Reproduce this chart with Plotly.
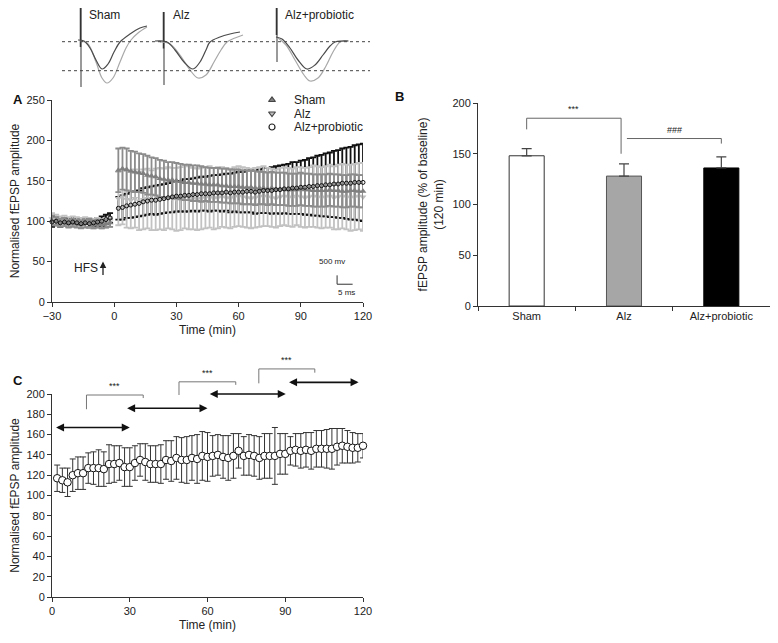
import plotly.graph_objects as go

# -------------------------------------------------
# DATA
# -------------------------------------------------
# panel A: normalised fEPSP amplitude, baseline (-30..-2 min) and post-HFS (2..120 min)
base_time = list(range(-30, 0, 2))
post_time = list(range(2, 121, 2))

sham_base = [101, 100, 98, 99, 97, 98, 97, 96, 97, 98, 96, 97, 96, 97, 98]
sham_base_err = [6, 5, 5, 5, 5, 5, 5, 5, 5, 5, 5, 5, 5, 5, 5]
alz_base = [103, 102, 100, 101, 99, 100, 99, 98, 99, 98, 97, 98, 97, 98, 99]
alz_base_err = [7, 6, 6, 6, 6, 6, 6, 6, 6, 6, 6, 6, 6, 6, 6]
apr_base = [99, 100, 98, 99, 98, 99, 98, 97, 98, 97, 98, 99, 100, 102, 104]
apr_base_err = [6, 5, 5, 5, 5, 5, 5, 5, 5, 5, 5, 5, 6, 6, 6]

sham_post = [163, 165, 164, 162, 161, 160, 159, 157, 156, 155,
             153, 152, 151, 151, 150, 149, 148, 148, 147, 147,
             146, 146, 145, 145, 145, 144, 144, 143, 143, 143,
             142, 142, 142, 141, 141, 141, 140, 141, 140, 140,
             140, 139, 139, 139, 140, 139, 139, 138, 138, 138,
             138, 139, 138, 138, 137, 137, 138, 138, 137, 137]
sham_post_err = [27, 26, 26, 25, 25, 24, 24, 24, 23, 23,
                 23, 23, 22, 22, 22, 22, 22, 22, 22, 22,
                 22, 21, 21, 21, 21, 21, 21, 21, 21, 21,
                 21, 21, 21, 21, 20, 20, 20, 20, 20, 20,
                 20, 20, 20, 20, 20, 20, 20, 20, 20, 20,
                 20, 20, 20, 20, 20, 20, 20, 20, 20, 20]

alz_post = [128, 130, 127, 126, 128, 125, 127, 128, 126, 127,
            128, 127, 129, 128, 127, 128, 130, 129, 128, 127,
            128, 129, 130, 128, 129, 130, 129, 128, 130, 131,
            130, 129, 128, 129, 130, 131, 130, 129, 128, 130,
            131, 130, 129, 131, 130, 129, 130, 131, 130, 129,
            130, 131, 129, 130, 131, 130, 129, 130, 131, 130]
alz_post_err = [33, 34, 35, 35, 36, 36, 37, 37, 37, 38,
                38, 38, 38, 38, 39, 39, 39, 39, 38, 38,
                38, 38, 38, 38, 38, 37, 37, 37, 37, 37,
                37, 37, 37, 37, 37, 37, 36, 36, 36, 36,
                36, 36, 36, 36, 37, 37, 37, 38, 38, 38,
                38, 39, 39, 40, 40, 40, 41, 41, 41, 42]

apr_post = [116, 117, 119, 120, 121, 122, 124, 125, 126, 126,
            127, 128, 129, 130, 131, 131, 132, 132, 133, 133,
            134, 134, 134, 135, 135, 135, 136, 135, 136, 136,
            136, 137, 137, 136, 137, 138, 138, 138, 139, 139,
            140, 140, 141, 141, 142, 142, 143, 143, 144, 144,
            145, 145, 146, 146, 147, 147, 147, 148, 148, 148]
apr_post_err = [14, 15, 15, 16, 16, 16, 17, 17, 17, 18,
                18, 18, 18, 19, 19, 19, 20, 20, 20, 21,
                21, 21, 22, 22, 22, 23, 23, 24, 24, 25,
                25, 26, 26, 27, 27, 28, 28, 29, 29, 30,
                30, 31, 32, 32, 33, 34, 35, 36, 37, 38,
                39, 40, 41, 42, 43, 44, 45, 46, 47, 48]

# panel B: amplitude at 120 min
groups = ["Sham", "Alz", "Alz+probiotic"]
b_mean = [148, 128, 136]
b_err = [7, 12, 11]

# panel C: Alz+probiotic time course
c_mean = [117, 115, 113, 120, 122, 122, 127, 127, 127, 126,
          131, 131, 132, 128, 128, 132, 135, 133, 131, 131,
          131, 135, 134, 137, 135, 135, 137, 136, 139, 138,
          139, 140, 138, 137, 139, 144, 139, 140, 139, 137,
          139, 139, 139, 141, 141, 144, 145, 144, 145, 144,
          146, 146, 146, 146, 148, 149, 148, 147, 147, 149]
c_err = [13, 12, 14, 16, 16, 16, 15, 16, 18, 17,
         19, 18, 17, 19, 19, 17, 16, 18, 18, 18,
         19, 19, 20, 21, 22, 23, 22, 24, 24, 24,
         20, 20, 21, 22, 22, 17, 19, 20, 20, 21,
         22, 22, 28, 20, 20, 14, 16, 17, 17, 18,
         18, 18, 19, 20, 18, 17, 16, 15, 14, 12]

# comparison windows (min) and their levels for panel C
c_windows = [(1, 30), (28.4, 60), (60.3, 90.2), (90.9, 118.3)]
c_window_level = [167, 186, 200, 211.5]
c_brackets = [(13.3, 35.2, 185, 199, 196), (49, 70.9, 199, 212, 209), (79.8, 101.4, 210.5, 224.7, 221)]

# panel B significance brackets: (x0, x1, left foot, top, right foot, label)
b_brackets = [(0, 0.97, 174, 185, 150, "***"), (1.03, 2.0, 165, 165, 160, "###")]

# example traces (inset, sketch units)
traces_inset = {
    "Sham": dict(
        dark_x=[78, 84, 90, 96, 102, 108, 114, 120, 130, 140, 147],
        dark_y=[40, 41, 48, 60, 69, 64, 52, 42, 34, 28, 26],
        light_x=[80, 88, 96, 102, 107, 113, 120, 126, 131, 138, 147],
        light_y=[41, 44, 62, 78, 83, 78, 62, 48, 40, 33, 27],
        stim=(81, 7, 87), label_x=87),
    "Alz": dict(
        dark_x=[155, 167, 175, 184, 193, 200, 206, 210, 220, 230, 240],
        dark_y=[41, 42, 50, 62, 69, 62, 50, 42, 37, 34, 32],
        light_x=[160, 170, 180, 190, 198, 206, 214, 221, 227, 235, 243],
        light_y=[42, 44, 55, 70, 78, 75, 62, 50, 42, 38, 35],
        stim=(164, 12, 85), label_x=171),
    "Alz+probiotic": dict(
        dark_x=[276, 282, 290, 298, 307, 315, 323, 330, 335, 342, 348],
        dark_y=[37, 39, 48, 60, 69, 65, 55, 46, 42, 41, 41],
        light_x=[278, 286, 295, 304, 310, 318, 326, 333, 340, 345, 349],
        light_y=[38, 45, 60, 75, 81, 78, 66, 52, 42, 41, 41],
        stim=(277, 8, 62), label_x=283),
}

# legend entries for panel A
legend_items = [("Sham", "triangle-up", "#7f7f7f"),
                ("Alz", "triangle-down", "#bdbdbd"),
                ("Alz+probiotic", "circle-open", "#222222")]

# -------------------------------------------------
# LAYOUT HELPERS
# -------------------------------------------------
W, H = 778, 643
OFF = 8  # page body margin in the browser
FONT = "Arial, Liberation Sans, sans-serif"
AX = "#333333"


def fx(p):
    return (p - OFF) / W


def fy(p):
    return 1 - (p - OFF) / H


A_X, A_Y = (52, 363), (100, 302)
B_X, B_Y = (478, 770), (103, 306)
C_X, C_Y = (52, 363), (394, 597)


def _axis(**kw):
    d = dict(
        showline=True, linecolor=AX, linewidth=1,
        ticks="outside", ticklen=4, tickcolor=AX,
        showgrid=False, zeroline=False, automargin=False,
        tickfont=dict(size=11, color="#222", family=FONT),
        title_font=dict(size=12, color="#222", family=FONT),
    )
    d.update(kw)
    return d


fig = go.Figure()

# -------------------------------------------------
# PANEL A
# -------------------------------------------------
time_a = base_time + post_time
err_style = dict(type="data", thickness=1.8, width=3)

fig.add_trace(go.Scatter(
    x=time_a, y=apr_base + apr_post, mode="markers",
    marker=dict(size=1, color="rgba(0,0,0,0)"),
    error_y=dict(array=apr_base_err + apr_post_err, color="#111", **err_style),
    showlegend=False, cliponaxis=False, xaxis="x", yaxis="y"))

fig.add_trace(go.Scatter(
    x=time_a, y=alz_base + alz_post, mode="markers", name="Alz",
    marker=dict(symbol="triangle-down", size=6, color="#bdbdbd"),
    error_y=dict(array=alz_base_err + alz_post_err, color="#c2c2c2", **err_style),
    showlegend=False, cliponaxis=False, xaxis="x", yaxis="y"))

fig.add_trace(go.Scatter(
    x=time_a, y=sham_base + sham_post, mode="markers", name="Sham",
    marker=dict(symbol="triangle-up", size=6, color="#7f7f7f"),
    error_y=dict(array=sham_base_err + sham_post_err, color="#8c8c8c", **err_style),
    showlegend=False, cliponaxis=False, xaxis="x", yaxis="y"))

fig.add_trace(go.Scatter(
    x=time_a, y=apr_base + apr_post, mode="markers", name="Alz+probiotic",
    marker=dict(symbol="circle-open", size=4, color="#111", line=dict(width=1)),
    showlegend=False, cliponaxis=False, xaxis="x", yaxis="y"))

# -------------------------------------------------
# PANEL B
# -------------------------------------------------
fig.add_trace(go.Bar(
    x=groups, y=b_mean, width=0.36,
    marker=dict(color=["#ffffff", "#a6a6a6", "#000000"],
                line=dict(color=["#333", "#555", "#000"], width=1)),
    error_y=dict(type="data", symmetric=False, array=b_err, arrayminus=[0, 0, 0],
                 color="#444", thickness=1.2, width=5),
    showlegend=False, xaxis="x2", yaxis="y2"))

# -------------------------------------------------
# PANEL C
# -------------------------------------------------
fig.add_trace(go.Scatter(
    x=post_time, y=c_mean, mode="markers",
    marker=dict(symbol="circle", size=7.5, color="white", line=dict(color="#111", width=1)),
    error_y=dict(type="data", array=c_err, color="#333", thickness=1, width=3),
    showlegend=False, cliponaxis=False, xaxis="x3", yaxis="y3"))

# -------------------------------------------------
# INSET TRACES + LEGEND (overlay in page units)
# -------------------------------------------------
for name, tr in traces_inset.items():
    sx, sy0, sy1 = tr["stim"]
    fig.add_trace(go.Scatter(x=[sx, sx], y=[sy0, sy1], mode="lines",
                             line=dict(color="#9a9a9a", width=2),
                             showlegend=False, hoverinfo="skip", xaxis="x4", yaxis="y4"))
    fig.add_trace(go.Scatter(x=[sx - 0.5, sx - 0.5], y=[sy0, (sy0 + sy1) / 2], mode="lines",
                             line=dict(color="#333", width=1.5),
                             showlegend=False, hoverinfo="skip", xaxis="x4", yaxis="y4"))
    fig.add_trace(go.Scatter(x=tr["light_x"], y=tr["light_y"], mode="lines",
                             line=dict(color="#a8a8a8", width=1.2, shape="spline"),
                             showlegend=False, hoverinfo="skip", xaxis="x4", yaxis="y4"))
    fig.add_trace(go.Scatter(x=tr["dark_x"], y=tr["dark_y"], mode="lines",
                             line=dict(color="#4a4a4a", width=1.2, shape="spline"),
                             showlegend=False, hoverinfo="skip", xaxis="x4", yaxis="y4"))
    fig.add_annotation(x=tr["label_x"], y=15, xref="x4", yref="y4", text=name,
                       showarrow=False, xanchor="left",
                       font=dict(size=12, color="#222", family=FONT))

for lvl in [41.7, 70.7]:
    fig.add_shape(type="line", x0=62, x1=370, y0=lvl, y1=lvl, xref="x4", yref="y4",
                  line=dict(color="#444", width=1, dash="dot"))

for i, (name, sym, col) in enumerate(legend_items):
    ly = 100 + i * 13.5
    fig.add_trace(go.Scatter(x=[272], y=[ly], mode="markers",
                             marker=dict(symbol=sym, size=6, color=col, line=dict(width=1.2)),
                             showlegend=False, hoverinfo="skip", xaxis="x4", yaxis="y4"))
    fig.add_annotation(x=292, y=ly, xref="x4", yref="y4", text=name, showarrow=False,
                       xanchor="left", font=dict(size=12, color="#222", family=FONT))

# -------------------------------------------------
# ANNOTATIONS / SHAPES
# -------------------------------------------------
# HFS marker and scale bar (panel A)
fig.add_annotation(x=-13.5, y=42, xref="x", yref="y", text="HFS", showarrow=False,
                   font=dict(size=12, color="#222", family=FONT))
fig.add_annotation(x=-5.4, y=50, xref="x", yref="y", ax=0, ay=15, text="",
                   showarrow=True, arrowhead=2, arrowsize=1, arrowwidth=1.3, arrowcolor="#222")
fig.add_shape(type="line", x0=107.5, x1=107.5, y0=33, y1=22, xref="x", yref="y",
              line=dict(color="#333", width=1))
fig.add_shape(type="line", x0=107.5, x1=115, y0=22, y1=22, xref="x", yref="y",
              line=dict(color="#333", width=1))
fig.add_annotation(x=105, y=50, xref="x", yref="y", text="500 mv", showarrow=False,
                   font=dict(size=8, color="#222", family=FONT))
fig.add_annotation(x=112, y=12, xref="x", yref="y", text="5 ms", showarrow=False,
                   font=dict(size=8, color="#222", family=FONT))

# significance brackets (panel B)
for x0, x1, yl, yt, yr, lab in b_brackets:
    fig.add_shape(type="path", xref="x2", yref="y2",
                  path=f"M {x0},{yl} L {x0},{yt} L {x1},{yt} L {x1},{yr}",
                  line=dict(color="#666", width=1))
    fig.add_annotation(x=(x0 + x1) / 2, y=yt + 2, xref="x2", yref="y2", text=lab,
                       showarrow=False, yanchor="bottom",
                       font=dict(size=9, color="#222", family=FONT))

# comparison windows and brackets (panel C)
c_y0, c_y1 = fy(C_Y[1]), fy(C_Y[0])


def cy(v):
    return c_y0 + v / 200 * (c_y1 - c_y0)


for (t0, t1), lvl in zip(c_windows, c_window_level):
    fig.add_annotation(x=t1, y=cy(lvl), xref="x3", yref="paper",
                       ax=t0, axref="x3", ay=0, ayref="pixel", text="",
                       showarrow=True, arrowside="end+start", arrowhead=2,
                       arrowsize=1, arrowwidth=1.6, arrowcolor="#111")

for t0, t1, yl, yt, yr in c_brackets:
    fig.add_shape(type="path", xref="x3", yref="paper",
                  path=f"M {t0},{cy(yl)} L {t0},{cy(yt)} L {t1},{cy(yt)} L {t1},{cy(yr)}",
                  line=dict(color="#777", width=1))
    fig.add_annotation(x=(t0 + t1) / 2, y=cy(yt + 2), xref="x3", yref="paper", text="***",
                       showarrow=False, yanchor="bottom",
                       font=dict(size=9, color="#222", family=FONT))

# panel letters
for lab, px, py in [("A", 11, 90), ("B", 399, 87), ("C", 11, 380)]:
    fig.add_annotation(x=fx(px), y=fy(py), xref="paper", yref="paper", text=f"<b>{lab}</b>",
                       showarrow=False, font=dict(size=13, color="#111", family=FONT))

# -------------------------------------------------
# LAYOUT
# -------------------------------------------------
fig.update_layout(
    width=W, height=H,
    margin=dict(l=0, r=0, t=0, b=0),
    paper_bgcolor="white", plot_bgcolor="rgba(0,0,0,0)",
    font=dict(family=FONT, color="#222"),
    showlegend=False,
    bargap=0.64,
    xaxis=_axis(domain=[fx(A_X[0]), fx(A_X[1])], range=[-30, 120],
                tickvals=[-30, 0, 30, 60, 90, 120], ticktext=["\u221230", "0", "30", "60", "90", "120"],
                title=dict(text="Time (min)", standoff=4), anchor="y"),
    yaxis=_axis(domain=[fy(A_Y[1]), fy(A_Y[0])], range=[0, 250],
                tickvals=[0, 50, 100, 150, 200, 250],
                title=dict(text="Normalised fEPSP amplitude", standoff=6), anchor="x"),
    xaxis2=_axis(domain=[fx(B_X[0]), fx(B_X[1])], range=[-0.5, 2.5], type="category",
                 tickson="boundaries", anchor="y2"),
    yaxis2=_axis(domain=[fy(B_Y[1]), fy(B_Y[0])], range=[0, 200],
                 tickvals=[0, 50, 100, 150, 200],
                 title=dict(text="fEPSP amplitude (% of baseline)<br>(120 min)", standoff=6),
                 anchor="x2"),
    xaxis3=_axis(domain=[fx(C_X[0]), fx(C_X[1])], range=[0, 120],
                 tickvals=[0, 30, 60, 90, 120],
                 title=dict(text="Time (min)", standoff=4), anchor="y3"),
    yaxis3=_axis(domain=[fy(C_Y[1]), fy(C_Y[0])], range=[0, 200],
                 tickvals=list(range(0, 201, 20)),
                 title=dict(text="Normalised fEPSP amplitude", standoff=6), anchor="x3"),
    xaxis4=dict(domain=[0, 1], range=[OFF, W + OFF], visible=False, anchor="y4", automargin=False),
    yaxis4=dict(domain=[0, 1], range=[H + OFF, OFF], visible=False, anchor="x4", automargin=False),
)

fig.write_html("out.html")
